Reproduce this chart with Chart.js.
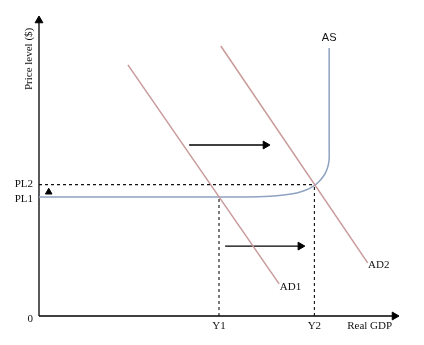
<!DOCTYPE html>
<html>
<head>
<meta charset="utf-8">
<script src="https://cdn.jsdelivr.net/npm/chart.js@4.4.1/dist/chart.umd.min.js"></script>
<style>
  html, body { margin: 0; padding: 0; background: #fff; }
  #wrap { width: 424px; height: 345px; }
</style>
</head>
<body>
<div id="wrap"><canvas id="adasChart" width="424" height="345"></canvas></div>
<script>
// curve data (Real GDP on x, price level on y, 0..100 units)
const ad1 = [{ x: 24.7, y: 83.7 }, { x: 66.7, y: 10.7 }];
const ad2 = [{ x: 50.5, y: 90 }, { x: 91.3, y: 17.7 }];
const asCurve = [
  { x: 0, y: 39.7 }, { x: 58, y: 39.7 }, { x: 64.2, y: 39.9 }, { x: 68, y: 40.3 },
  { x: 71.6, y: 41 }, { x: 74, y: 41.9 }, { x: 76, y: 43.1 }, { x: 77.6, y: 44.6 },
  { x: 78.9, y: 46.4 }, { x: 79.8, y: 48.3 }, { x: 80.35, y: 50.3 }, { x: 80.6, y: 52.5 },
  { x: 80.6, y: 56 }, { x: 80.6, y: 89.3 }
];

const yTickValues = [0, 39.7, 43.8];
const yTickLabels = ['0', 'PL1', 'PL2'];
const xTickValues = [50, 76.5];
const xTickLabels = ['Y1', 'Y2'];

const shiftArrowTop = [{ x: 41.7, y: 57 }, { x: 62.9, y: 57 }];
const shiftArrowBottom = [{ x: 51.7, y: 23.3 }, { x: 72.6, y: 23.3 }];
const priceArrow = [{ x: 2.7, y: 41.3 }];

const curveLabels = [
  { text: 'AS', x: 80.6, y: 92.7 },
  { text: 'AD1', x: 66.9, y: 9.7 },
  { text: 'AD2', x: 91.4, y: 17 }
];
const xAxisTitle = 'Real GDP';
const yAxisTitle = 'Price level ($)';

const serif = '"Liberation Serif", "Times New Roman", serif';
const sans = '"Liberation Sans", Arial, sans-serif';

function line(data, color, width, dash) {
  return {
    data: data, showLine: true, borderColor: color, borderWidth: width,
    borderDash: dash || [], pointRadius: 0, fill: false, tension: 0
  };
}

function arrow(data, rot) {
  return {
    data: data, showLine: true, borderColor: '#000', borderWidth: 1.3,
    pointStyle: 'triangle', pointRotation: [0, rot],
    pointRadius: [0, 4.5], pointBackgroundColor: '#000', pointBorderColor: '#000',
    pointBorderWidth: 1
  };
}

// dashed guide lines
const pl2Guide = [{ x: 0, y: yTickValues[2] }, { x: xTickValues[1], y: yTickValues[2] }];
const y1Guide = [{ x: xTickValues[0], y: 0 }, { x: xTickValues[0], y: yTickValues[1] }];
const y2Guide = [{ x: xTickValues[1], y: 0 }, { x: xTickValues[1], y: yTickValues[2] }];

const labelPlugin = {
  id: 'labels',
  afterDatasetsDraw(chart) {
    const ctx = chart.ctx;
    const xs = chart.scales.x, ys = chart.scales.y;
    ctx.save();
    ctx.fillStyle = '#111';
    ctx.textBaseline = 'middle';

    // y tick labels
    ctx.font = '11px ' + serif;
    ctx.textAlign = 'right';
    yTickLabels.forEach((t, i) => {
      let off = i === 0 ? 3 : (i === 1 ? 2 : 0);
      ctx.fillText(t, xs.left - 6, ys.getPixelForValue(yTickValues[i]) + off);
    });
    // x tick labels
    ctx.textAlign = 'center';
    xTickLabels.forEach((t, i) => {
      ctx.fillText(t, xs.getPixelForValue(xTickValues[i]), ys.bottom + 10);
    });
    ctx.textAlign = 'left';
    ctx.fillText(xAxisTitle, xs.getPixelForValue(85.6), ys.bottom + 10);

    // curve labels
    curveLabels.forEach(l => {
      if (l.text === 'AS') {
        ctx.font = '11px ' + sans;
        ctx.textAlign = 'center';
      } else {
        ctx.font = '11px ' + serif;
        ctx.textAlign = 'left';
      }
      ctx.fillText(l.text, xs.getPixelForValue(l.x), ys.getPixelForValue(l.y));
    });

    // rotated y title
    ctx.font = '11px ' + serif;
    ctx.translate(xs.left - 10, ys.getPixelForValue(85.7));
    ctx.rotate(-Math.PI / 2);
    ctx.textAlign = 'center';
    ctx.fillText(yAxisTitle, 0, 0);
    ctx.restore();
  }
};

new Chart(document.getElementById('adasChart'), {
  type: 'scatter',
  data: {
    datasets: [
      line(pl2Guide, '#111', 1.1, [3, 3]),
      line(y1Guide, '#111', 1.1, [3, 3]),
      line(y2Guide, '#111', 1.1, [3, 3]),
      line(ad1, '#c99a9a', 1.5),
      line(ad2, '#c99a9a', 1.5),
      Object.assign(line(asCurve, '#8ea3c0', 1.5), { tension: 0.3 }),
      arrow(shiftArrowTop, 90),
      arrow(shiftArrowBottom, 90),
      {
        data: priceArrow, showLine: false, pointStyle: 'triangle', pointRadius: 3.8,
        pointBackgroundColor: '#000', pointBorderColor: '#000', pointBorderWidth: 1
      },
      // axes
      arrow([{ x: 0, y: 0 }, { x: 0, y: 98.5 }], 0),
      arrow([{ x: 0, y: 0 }, { x: 98.75, y: 0 }], 90)
    ]
  },
  options: {
    responsive: false,
    animation: false,
    events: [],
    layout: {
      padding: { left: 39, top: 16, right: 25, bottom: 29 }
    },
    plugins: {
      legend: { display: false },
      tooltip: { enabled: false }
    },
    scales: {
      x: { type: 'linear', min: 0, max: 100, display: false },
      y: { type: 'linear', min: 0, max: 100, display: false }
    },
    clip: false
  },
  plugins: [labelPlugin]
});
</script>
</body>
</html>
